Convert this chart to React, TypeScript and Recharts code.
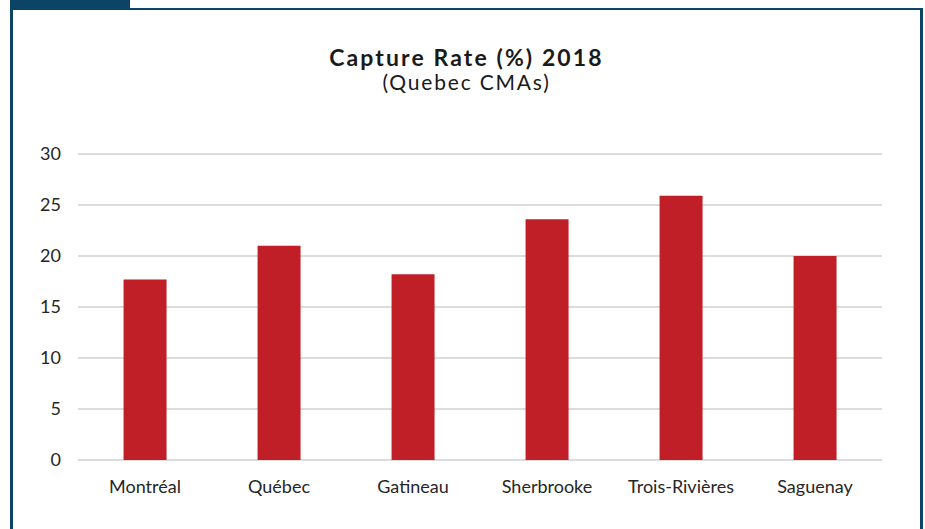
import React from "react";
import { BarChart, Bar, XAxis, YAxis, CartesianGrid } from "recharts";

const categories = ["Montréal", "Québec", "Gatineau", "Sherbrooke", "Trois-Rivières", "Saguenay"];
const captureRates = [17.7, 21.0, 18.2, 23.6, 25.9, 20.0];
const yTicks = [0, 5, 10, 15, 20, 25, 30];

const titleText = "Capture Rate (%) 2018";
const subtitleText = "(Quebec CMAs)";

const data = categories.map((name, i) => ({ name, value: captureRates[i] }));

const FRAME = "#0c4466";
const FONT = "Lato, 'Open Sans', sans-serif";

export default function App() {
  return (
    <div
      style={{
        position: "absolute",
        left: 0,
        top: 0,
        width: 925,
        height: 529,
        background: "#ffffff",
        overflow: "hidden",
        fontFamily: FONT,
      }}
    >
      {/* frame tab */}
      <div style={{ position: "absolute", left: 10, top: 0, width: 120, height: 10, background: FRAME }} />
      {/* top border */}
      <div style={{ position: "absolute", left: 10, top: 8, width: 913, height: 2, background: FRAME }} />
      {/* left border */}
      <div style={{ position: "absolute", left: 10, top: 8, width: 3, height: 530, background: FRAME }} />
      {/* right border */}
      <div style={{ position: "absolute", left: 920, top: 8, width: 3, height: 530, background: FRAME }} />

      <div
        style={{
          position: "absolute",
          left: 10,
          width: 913,
          top: 44,
          textAlign: "center",
          fontSize: 23,
          fontWeight: 700,
          letterSpacing: 2.1,
          color: "#1a1a1a",
          lineHeight: "26px",
        }}
      >
        {titleText}
      </div>
      <div
        style={{
          position: "absolute",
          left: 10,
          width: 913,
          top: 70,
          textAlign: "center",
          fontSize: 21,
          letterSpacing: 1.8,
          color: "#1a1a1a",
          lineHeight: "24px",
        }}
      >
        {subtitleText}
      </div>

      <div style={{ position: "absolute", left: 0, top: 0 }}>
        <BarChart
          width={925}
          height={529}
          data={data}
          margin={{ top: 154, right: 43, left: 18, bottom: 39 }}
          barCategoryGap="34%"
        >
          <CartesianGrid vertical={false} stroke="#dcdcdc" strokeWidth={2} />
          <XAxis
            dataKey="name"
            axisLine={false}
            tickLine={false}
            height={30}
            tickMargin={14}
            interval={0}
            tick={{ fill: "#262626", fontSize: 18, fontFamily: FONT }}
          />
          <YAxis
            domain={[0, 30]}
            ticks={yTicks}
            width={60}
            axisLine={false}
            tickLine={false}
            tickMargin={11}
            tick={{ fill: "#262626", fontSize: 18, fontFamily: FONT }}
          />
          <Bar dataKey="value" fill="#c01f27" isAnimationActive={false} />
        </BarChart>
      </div>
    </div>
  );
}
